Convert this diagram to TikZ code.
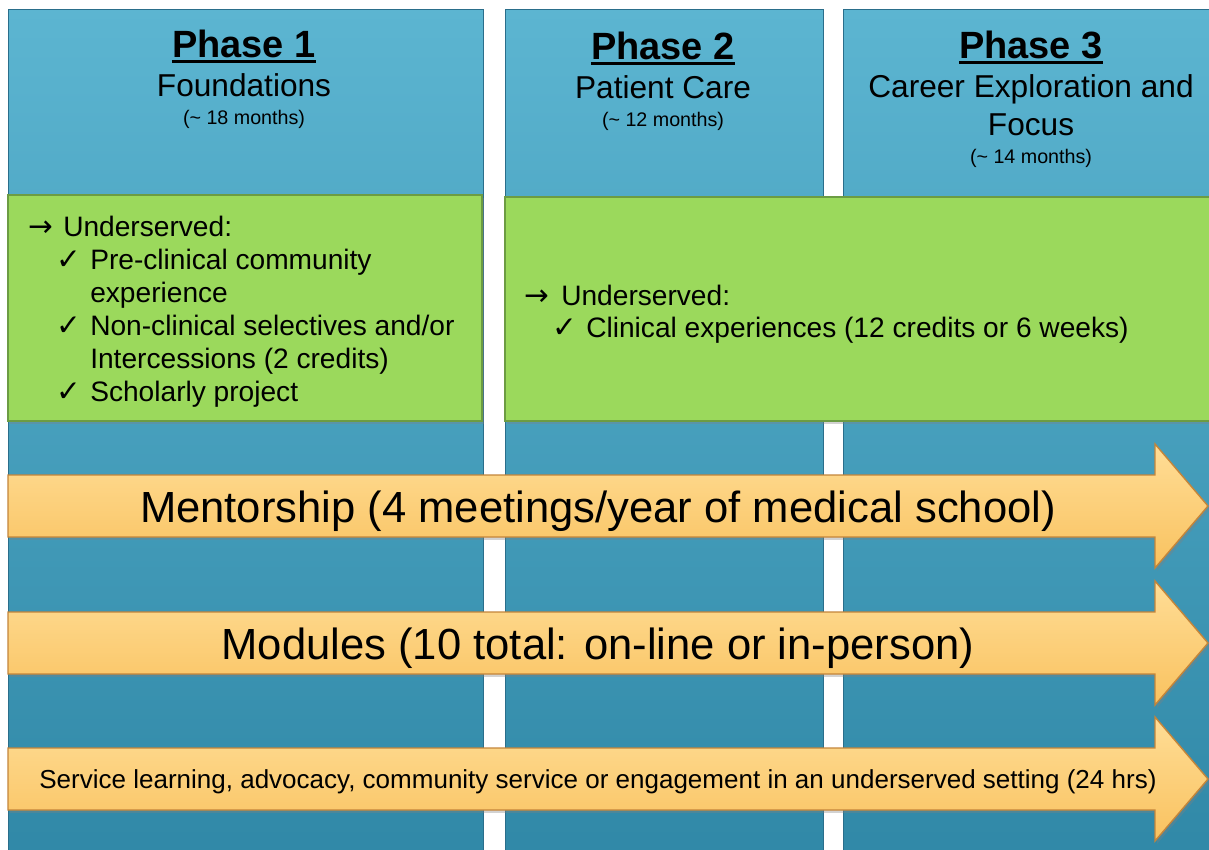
\documentclass[tikz,border=0pt]{standalone}
\usepackage{fontspec}
\setmainfont{Liberation Sans}
\newfontfamily\symfont{DejaVu Sans}
\usetikzlibrary{positioning,shadows}

\definecolor{coltop}{HTML}{5CB5D1}
\definecolor{colbot}{HTML}{3088A7}
\definecolor{colline}{HTML}{2A6E8B}
\definecolor{boxgreen}{HTML}{9BD95C}
\definecolor{boxline}{HTML}{6C9C43}
\definecolor{arrtop}{HTML}{FFDD96}
\definecolor{arrbot}{HTML}{F9C25F}
\definecolor{arrline}{HTML}{C4853A}

\begin{document}
\begin{tikzpicture}[%
		x=0.025cm,
		y=-0.025cm,
		phasecol/.style={%
			top color=coltop,
			bottom color=colbot,
			draw=colline,
			line width=0.6pt
		},
		greenbox/.style={%
			fill=boxgreen,
			draw=boxline,
			line width=0.8pt,
			drop shadow={opacity=0.35,shadow xshift=1.5pt,shadow yshift=-2pt}
		},
		bigarrow/.style={%
			top color=arrtop,
			bottom color=arrbot,
			draw=arrline,
			line width=1pt,
			drop shadow={opacity=0.35,shadow xshift=1.5pt,shadow yshift=-2pt}
		},
		phase/.style={anchor=base, inner sep=0pt, font=\fontsize{27}{30}\selectfont\bfseries},
		subtitle/.style={anchor=base, inner sep=0pt, font=\fontsize{22.5}{26}\selectfont},
		months/.style={anchor=base, inner sep=0pt, font=\fontsize{14}{17}\selectfont},
		item/.style={anchor=base west, inner sep=0pt, font=\fontsize{20}{24}\selectfont},
		sym/.style={anchor=base west, inner sep=0pt, font=\fontsize{21}{24}\symfont},
		bandtext/.style={anchor=base, inner sep=0pt, font=\fontsize{31}{36}\selectfont}
		]
		\useasboundingbox (0,0) rectangle (1209,849);
		\fill[white] (0,0) rectangle (1209,849);
		
		% phase columns
		\foreach \xl/\xr in {8/483, 505/823, 843/1220}
			\path[phasecol] (\xl,9) rectangle (\xr,860);
		
		% phase titles
		\node[phase]    (ph1)  at (244,57)  {Phase 1};
		\node[subtitle] (ph1a) at (244,96)  {Foundations};
		\node[months]   (ph1b) at (244,124) {(\textasciitilde{} 18 months)};
		
		\node[phase]    (ph2)  at (663,59)  {Phase 2};
		\node[subtitle] (ph2a) at (663,98)  {Patient Care};
		\node[months]   (ph2b) at (663,126) {(\textasciitilde{} 12 months)};
		
		\node[phase]    (ph3)  at (1031,58)  {Phase 3};
		\node[subtitle] (ph3a) at (1031,97)  {Career Exploration and};
		\node[subtitle] (ph3b) at (1031,135) {Focus};
		\node[months]   (ph3c) at (1031,163) {(\textasciitilde{} 14 months)};
		
		\foreach \p in {ph1,ph2,ph3}
			\draw[line width=2pt] ([yshift=-3pt]\p.base west) -- ([yshift=-3pt]\p.base east);
		
		% underserved boxes
		\path[greenbox] (8,195) rectangle (482,421);
		\path[greenbox] (505,197) rectangle (1220,421);
		
		\node[sym]  (u1)  at (28,236)  {→};
		\node[item] (u1t) at (63,236)  {Underserved:};
		\node[sym]  (c1)  at (56,269)  {✓};
		\node[item] (c1t) at (90,269)  {Pre-clinical community};
		\node[item] (c1u) at (90,302)  {experience};
		\node[sym]  (c2)  at (56,335)  {✓};
		\node[item] (c2t) at (90,335)  {Non-clinical selectives and/or};
		\node[item] (c2u) at (90,368)  {Intercessions (2 credits)};
		\node[sym]  (c3)  at (56,401)  {✓};
		\node[item] (c3t) at (90,401)  {Scholarly project};
		
		\node[sym]  (u2)  at (524,305) {→};
		\node[item] (u2t) at (561,305) {Underserved:};
		\node[sym]  (c4)  at (552,337) {✓};
		\node[item] (c4t) at (586,337) {Clinical experiences (12 credits or 6 weeks)};
		
		% arrows across all phases
		\foreach \yc in {506,643,779}
			\path[bigarrow] (8,\yc-31) -- (1155,\yc-31) -- (1155,\yc-62) -- (1208,\yc)
				-- (1155,\yc+62) -- (1155,\yc+31) -- (8,\yc+31) -- cycle;
		
		\node[bandtext] (mentor)  at (598,522) {Mentorship (4 meetings/year of medical school)};
		\node[bandtext] (modules) at (598,659) {Modules (10 total: on-line or in-person)};
		\node[anchor=base, inner sep=0pt, font=\fontsize{18.5}{22}\selectfont] (service) at (598,788)
			{Service learning, advocacy, community service or engagement in an underserved setting (24 hrs)};
		\end{tikzpicture}
\end{document}
